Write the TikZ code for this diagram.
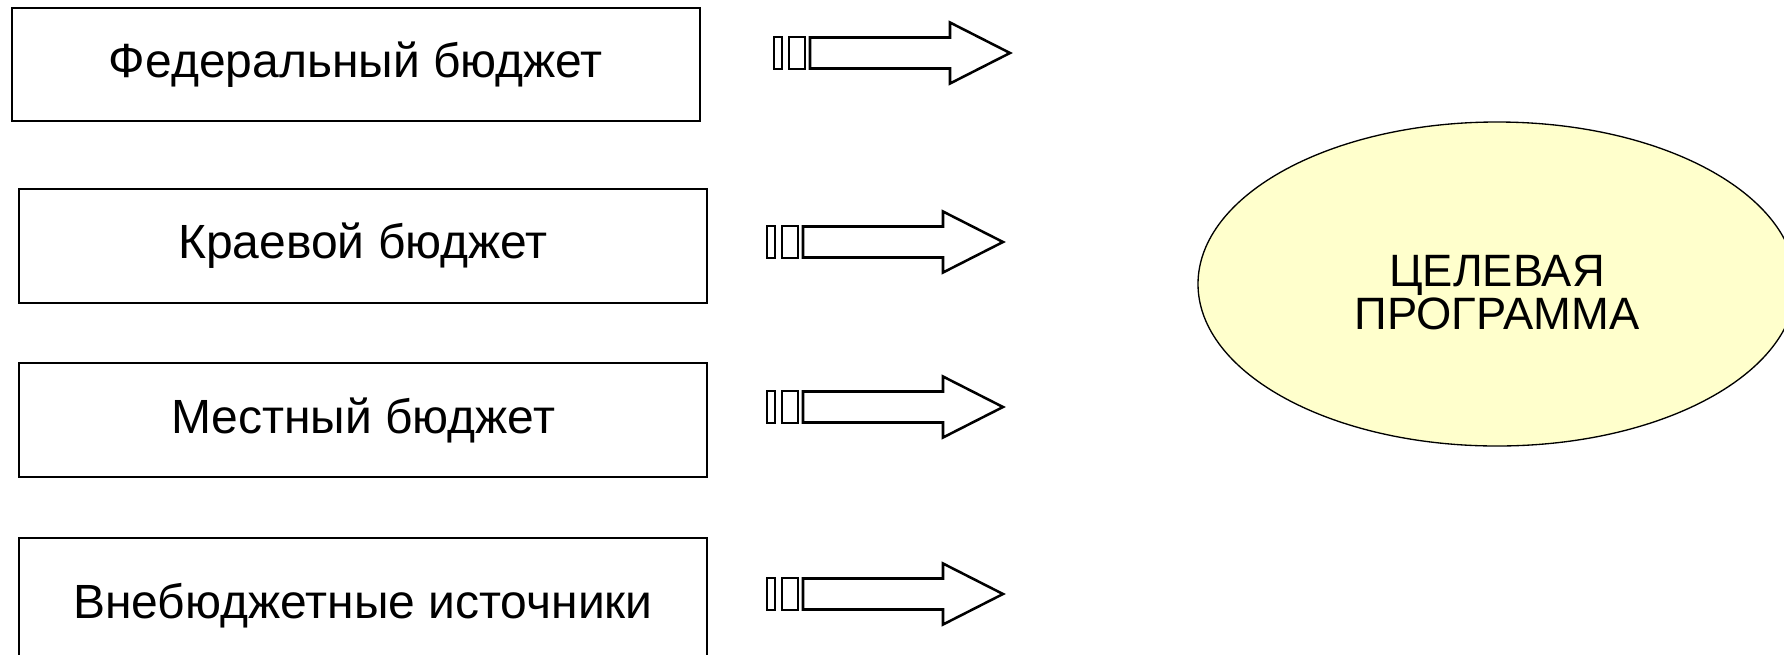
\documentclass[tikz,border=0pt]{standalone}
\usepackage{fontspec}
\setmainfont{Liberation Sans}
\usetikzlibrary{shapes.geometric}
\definecolor{ellfill}{HTML}{FFFFCC}
\tikzset{
  srcbox/.style={draw=black, line width=1.6pt, fill=white, minimum width=516pt, inner sep=0pt,
    font=\fontsize{36}{42}\selectfont},
  arrowline/.style={draw=black, line width=1.9pt, fill=white, line join=miter},
  goal/.style={ellipse, draw=black, line width=1pt, fill=ellfill, inner sep=0pt,
    minimum width=448.5pt, minimum height=243pt, align=center,
    font=\fontsize{34}{29}\selectfont},
  pics/blockarrow/.style={code={
    \draw[arrowline] (0,-16) rectangle (8,16);
    \draw[arrowline] (15,-16) rectangle (31,16);
    \draw[arrowline] (36,-15.5) -- (176,-15.5) -- (176,-30.5) -- (236,0) -- (176,30.5) -- (176,15.5) -- (36,15.5) -- cycle;
  }}
}
\begin{document}
\begin{tikzpicture}[x=0.75pt, y=-0.75pt]
\useasboundingbox (0,0) rectangle (1784,654);
\fill[white] (0,0) rectangle (1784,654);
\node[srcbox, minimum height=84.75pt] (b1) at (356,64.5) {Федеральный бюджет};
\node[srcbox, minimum height=85.5pt] (b2) at (363,246) {Краевой бюджет};
\node[srcbox, minimum height=85.5pt] (b3) at (363,420) {Местный бюджет};
\node[srcbox, minimum height=102pt] (b4) at (363,606) {Внебюджетные источники};
\pic at (774,53) {blockarrow};
\pic at (767,242) {blockarrow};
\pic at (767,407) {blockarrow};
\pic at (767,594) {blockarrow};
\node[goal] (g) at (1497,284) {\raisebox{-10.5pt}[\height][\depth]{\begin{tabular}{@{}c@{}}ЦЕЛЕВАЯ\\ПРОГРАММА\end{tabular}}};
\end{tikzpicture}
\end{document}
